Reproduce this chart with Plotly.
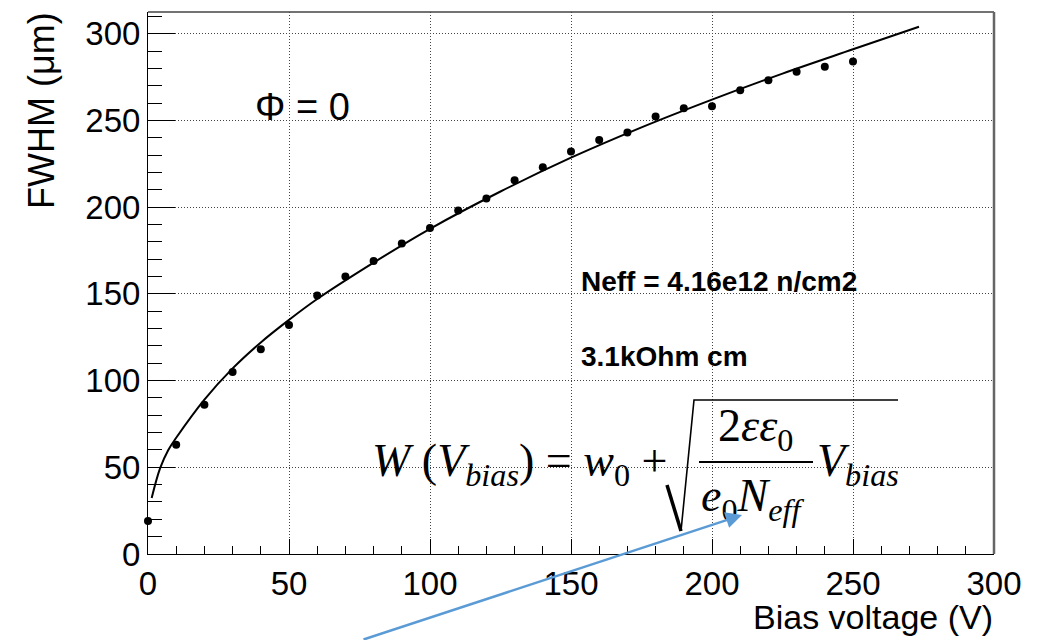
import plotly.graph_objects as go

# Measured FWHM of the depletion region vs. applied bias
bias_v = [0, 10, 20, 30, 40, 50, 60, 70, 80, 90, 100, 110, 120, 130, 140,
          150, 160, 170, 180, 190, 200, 210, 220, 230, 240, 250]
fwhm_um = [19, 63, 86, 105, 118, 132, 149, 160, 169, 179, 188, 198, 205, 215.5,
           223, 232, 238.7, 243, 252.3, 257, 258.2, 267.4, 273.2, 278, 281, 284]

# Fitted curve W(V) sampled along its length
fit_v = [1.3, 4.3, 7.2, 10, 20, 30, 40, 50, 60, 80, 100, 125, 150, 175,
         200, 225, 250, 273.4]
fit_w = [32.3, 49.5, 60, 67, 89, 107, 122, 135, 147, 168, 187.5, 209, 228.5,
         246, 262, 277, 291, 304]

x_ticks = [0, 50, 100, 150, 200, 250, 300]
y_ticks = [0, 50, 100, 150, 200, 250, 300]

W, H = 1051, 640
L, R, T, B = 148, 994, 12, 554


def px(x):
    return (x - L) / (R - L)


def py(y):
    return (B - y) / (B - T)


sans = "Liberation Sans, Arial, sans-serif"
serif = "Liberation Serif, Times New Roman, serif"

fig = go.Figure()

fig.add_trace(go.Scatter(
    x=fit_v, y=fit_w, mode="lines",
    line=dict(color="black", width=2, shape="spline", smoothing=1.0),
    hoverinfo="skip", showlegend=False,
))
fig.add_trace(go.Scatter(
    x=bias_v, y=fwhm_um, mode="markers", marker=dict(color="black", size=8),
    cliponaxis=False, showlegend=False,
))

axis_common = dict(
    showline=True, linecolor="black", linewidth=1, mirror=False,
    ticks="inside", tickcolor="black", tickwidth=1,
    showgrid=True, gridcolor="#444", gridwidth=1, griddash="1px,2px",
    zeroline=False, tickfont=dict(family=sans, size=33, color="black"),
)

fig.update_xaxes(
    range=[0, 300], tickvals=x_ticks, ticklen=15,
    minor=dict(dtick=10, ticks="inside", ticklen=8, tickcolor="black", showgrid=False),
    ticklabelstandoff=0, **axis_common,
)
fig.update_yaxes(
    range=[0, 312.5], tickvals=y_ticks, ticklen=27,
    minor=dict(dtick=10, ticks="inside", ticklen=14, tickcolor="black", showgrid=False),
    ticklabelstandoff=0, **axis_common,
)

shapes = [
    # frame (top/right edges in grey)
    dict(type="line", xref="paper", yref="paper", x0=0, x1=1, y0=1, y1=1,
         line=dict(color="#444", width=1.5)),
    dict(type="line", xref="paper", yref="paper", x0=1, x1=1, y0=0, y1=1,
         line=dict(color="#666", width=2.5)),
    # fraction bar
    dict(type="line", xref="paper", yref="paper", x0=px(699), x1=px(813),
         y0=py(462), y1=py(462), line=dict(color="black", width=2)),
    # radical sign
    dict(type="line", xref="paper", yref="paper", x0=px(667), x1=px(681),
         y0=py(485), y1=py(531), line=dict(color="black", width=3.5)),
    dict(type="path", xref="paper", yref="paper",
         path=f"M {px(681)},{py(531)} L {px(694)},{py(400)} L {px(898)},{py(400)}",
         line=dict(color="black", width=1.6)),
]

annotations = [
    dict(text="FWHM (μm)", x=px(42), y=py(111), xref="paper", yref="paper",
         textangle=-90, showarrow=False, xanchor="center", yanchor="middle",
         font=dict(family=sans, size=36, color="black")),
    dict(text="Bias voltage (V)", x=px(995), y=py(617), xref="paper", yref="paper",
         showarrow=False, xanchor="right", yanchor="middle",
         font=dict(family=sans, size=34, color="black")),
    dict(text="Φ = 0", x=px(253), y=py(107), xref="paper", yref="paper",
         showarrow=False, xanchor="left", yanchor="middle",
         font=dict(family=sans, size=38, color="black")),
    dict(text="<b>Neff = 4.16e12 n/cm2</b>", x=px(579), y=py(281), xref="paper",
         yref="paper", showarrow=False, xanchor="left", yanchor="middle",
         font=dict(family=sans, size=28, color="black")),
    dict(text="<b>3.1kOhm cm</b>", x=px(579), y=py(357), xref="paper",
         yref="paper", showarrow=False, xanchor="left", yanchor="middle",
         font=dict(family=sans, size=28, color="black")),
    # formula pieces
    dict(text="<i>W</i> (<i>V</i><sub><i>bias</i></sub>) = <i>w</i><sub>0</sub> +",
         x=px(370), y=py(464), xref="paper", yref="paper", showarrow=False,
         xanchor="left", yanchor="middle",
         font=dict(family=serif, size=46, color="black")),
    dict(text="2<i>εε</i><sub>0</sub>", x=px(755), y=py(429), xref="paper",
         yref="paper", showarrow=False, xanchor="center", yanchor="middle",
         font=dict(family=serif, size=46, color="black")),
    dict(text="<i>e</i><sub>0</sub><i>N</i><sub><i>eff</i></sub>", x=px(752),
         y=py(499), xref="paper", yref="paper", showarrow=False,
         xanchor="center", yanchor="middle",
         font=dict(family=serif, size=46, color="black")),
    dict(text="<i>V</i><sub><i>bias</i></sub>", x=px(815), y=py(464),
         xref="paper", yref="paper", showarrow=False, xanchor="left",
         yanchor="middle", font=dict(family=serif, size=46, color="black")),
    # pointer arrow
    dict(text="", x=px(742), y=py(515), xref="paper", yref="paper",
         showarrow=True, ax=-380, ay=127, axref="pixel", ayref="pixel",
         arrowhead=2, arrowsize=1.3, arrowwidth=2.5, arrowcolor="#5B9BD5"),
]

fig.update_layout(
    width=W, height=H,
    margin=dict(l=L, r=W - R, t=T, b=H - B),
    paper_bgcolor="white", plot_bgcolor="white",
    shapes=shapes, annotations=annotations,
    showlegend=False,
)

fig.write_html("out.html")
